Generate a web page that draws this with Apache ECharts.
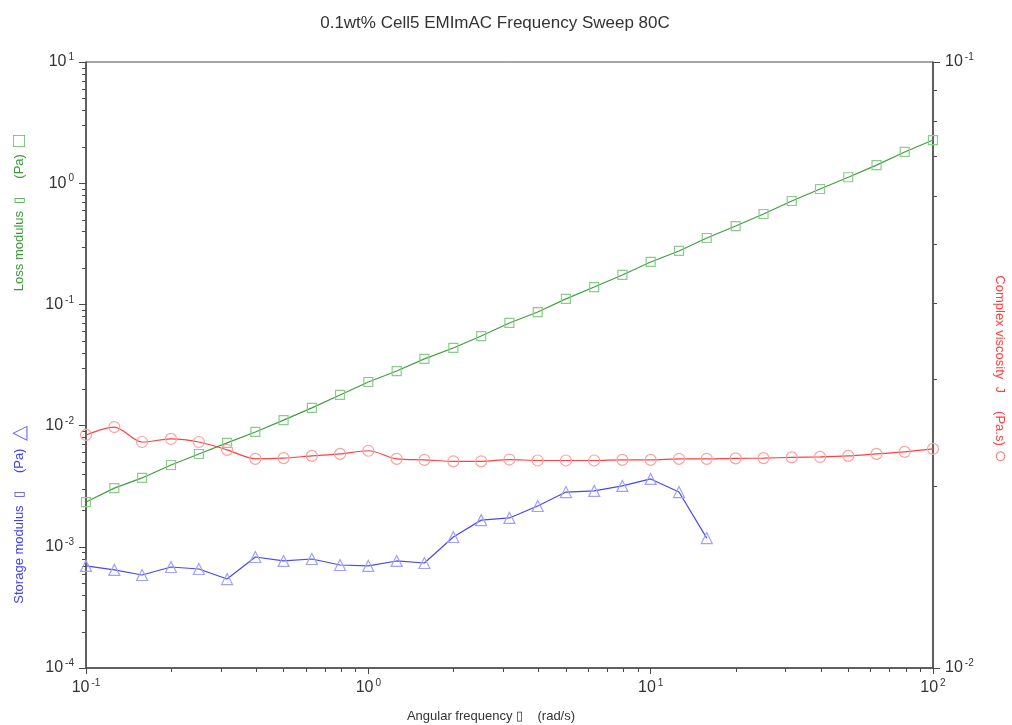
<!DOCTYPE html>
<html>
<head>
<meta charset="utf-8">
<script src="https://cdn.jsdelivr.net/npm/echarts@6/dist/echarts.min.js"></script>
<style>
  html, body { margin: 0; padding: 0; background: #ffffff; }
  #chart { width: 1012px; height: 725px; }
</style>
</head>
<body>
<div id="chart"></div>
<script>
// Angular frequency (rad/s), 10 points per decade
const frequency = [0.1, 0.126, 0.158, 0.2, 0.251, 0.316, 0.398, 0.501, 0.631, 0.794,
  1, 1.26, 1.58, 2, 2.51, 3.16, 3.98, 5.01, 6.31, 7.94,
  10, 12.6, 15.8, 20, 25.1, 31.6, 39.8, 50.1, 63.1, 79.4, 100];

// Loss modulus G'' (Pa)
const lossModulus = [0.00234, 0.00305, 0.0037, 0.00473, 0.00583, 0.0072, 0.00886, 0.0111, 0.0140, 0.0179,
  0.0229, 0.0282, 0.0355, 0.0437, 0.0548, 0.0703, 0.0865, 0.111, 0.139, 0.175,
  0.224, 0.276, 0.353, 0.443, 0.557, 0.713, 0.896, 1.12, 1.41, 1.81, 2.27];

// Storage modulus G' (Pa), measured up to 15.8 rad/s
const storageModulus = [0.000695, 0.000644, 0.000585, 0.000681, 0.000656, 0.000542, 0.000824, 0.000764, 0.000793, 0.000708,
  0.000695, 0.000764, 0.000735, 0.001205, 0.00166, 0.00173, 0.00217, 0.00283, 0.00289, 0.00318,
  0.00363, 0.00283, 0.00118];

// Complex viscosity (Pa.s)
const complexViscosity = [0.02424, 0.02498, 0.0236, 0.02388, 0.0236, 0.02291, 0.02214, 0.0222, 0.02239, 0.02256,
  0.02283, 0.02214, 0.02205, 0.02193, 0.02193, 0.02208, 0.022, 0.022, 0.022, 0.02205,
  0.02205, 0.02214, 0.02214, 0.02218, 0.0222, 0.02226, 0.0223, 0.02239, 0.02256, 0.02273, 0.02299];

const titleText = '0.1wt% Cell5 EMImAC Frequency Sweep 80C';

const xRange = [0.1, 100];
const leftRange = [1e-4, 10];
const rightRange = [0.01, 0.1];

const axisColor = '#4a4a4a';
const textColor = '#333333';
const fontFamily = 'Liberation Sans, Arial, sans-serif';

function pair(a, b) { return a.map((v, i) => [v, b[i]]); }

function powerLabel(value) {
  const e = Math.round(Math.log10(value));
  return '{b|10}{s|' + e + '}';
}

const powerRich = {
  b: { fontSize: 16, color: textColor, fontFamily: fontFamily },
  s: { fontSize: 10, color: textColor, fontFamily: fontFamily, padding: [0, 0, 9, 2] }
};

const chart = echarts.init(document.getElementById('chart'), null, { renderer: 'canvas' });

const option = {
  animation: false,
  backgroundColor: '#ffffff',
  title: {
    text: titleText,
    left: 490,
    textAlign: 'center',
    top: 10,
    textStyle: { fontSize: 17, fontWeight: 'normal', color: textColor, fontFamily: fontFamily }
  },
  grid: {
    left: 86, right: 79, top: 62, bottom: 57,
    show: true, borderColor: axisColor, borderWidth: 1, backgroundColor: 'transparent'
  },
  xAxis: {
    type: 'log', logBase: 10, min: xRange[0], max: xRange[1],
    axisLine: { show: true, lineStyle: { color: axisColor, width: 1.5 } },
    axisTick: { show: true, inside: false, length: 6, lineStyle: { color: axisColor, width: 1 } },
    axisLabel: { margin: 10, formatter: powerLabel, rich: powerRich },
    splitLine: { show: false },
    minorTick: { show: false }
  },
  yAxis: [
    {
      type: 'log', logBase: 10, min: leftRange[0], max: leftRange[1], position: 'left',
      axisLine: { show: true, lineStyle: { color: axisColor, width: 1.5 } },
      axisTick: { show: true, inside: false, length: 7, lineStyle: { color: axisColor, width: 1 } },
      axisLabel: { margin: 12, formatter: powerLabel, rich: powerRich },
      splitLine: { show: false }
    },
    {
      type: 'log', logBase: 10, min: rightRange[0], max: rightRange[1], position: 'right',
      axisLine: { show: true, lineStyle: { color: axisColor, width: 1.5 } },
      axisTick: { show: true, inside: false, length: 7, lineStyle: { color: axisColor, width: 1 } },
      axisLabel: { margin: 12, formatter: powerLabel, rich: powerRich },
      splitLine: { show: false }
    }
  ],
  series: [
    {
      name: 'Loss modulus',
      type: 'line', yAxisIndex: 0,
      data: pair(frequency, lossModulus),
      symbol: 'rect', symbolSize: 9,
      lineStyle: { color: '#3f9f3f', width: 1.2 },
      itemStyle: { color: 'rgba(0,0,0,0)', borderColor: '#8acc8a', borderWidth: 1.2 },
      z: 3
    },
    {
      name: 'Storage modulus',
      type: 'line', yAxisIndex: 0,
      data: pair(frequency, storageModulus),
      symbol: 'triangle', symbolSize: 11,
      lineStyle: { color: '#4848f0', width: 1.2 },
      itemStyle: { color: 'rgba(0,0,0,0)', borderColor: '#a0a0ff', borderWidth: 1.2 },
      z: 3
    },
    {
      name: 'Complex viscosity',
      type: 'line', yAxisIndex: 1,
      data: pair(frequency, complexViscosity),
      symbol: 'circle', symbolSize: 11, smooth: 0.3,
      lineStyle: { color: '#ff4040', width: 1.2 },
      itemStyle: { color: 'rgba(0,0,0,0)', borderColor: '#ffa0a0', borderWidth: 1.2 },
      z: 4
    }
  ]
};

chart.setOption(option);

// Axis titles and logarithmic minor ticks (positions come from the chart's own scales)
function buildOverlay() {
  const elements = [];
  const x0 = chart.convertToPixel({ xAxisIndex: 0 }, xRange[0]);
  const x1 = chart.convertToPixel({ xAxisIndex: 0 }, xRange[1]);
  const yBottom = chart.convertToPixel({ yAxisIndex: 0 }, leftRange[0]);
  const minorLen = 4;
  const tickStyle = { stroke: axisColor, lineWidth: 1 };

  function minorValues(lo, hi) {
    const out = [];
    for (let d = Math.round(Math.log10(lo)); d < Math.round(Math.log10(hi)); d++) {
      for (let k = 2; k <= 9; k++) out.push(k * Math.pow(10, d));
    }
    return out;
  }

  minorValues(xRange[0], xRange[1]).forEach(v => {
    const px = Math.round(chart.convertToPixel({ xAxisIndex: 0 }, v)) + 0.5;
    elements.push({ type: 'line', silent: true, shape: { x1: px, y1: yBottom, x2: px, y2: yBottom + minorLen }, style: tickStyle });
  });
  minorValues(leftRange[0], leftRange[1]).forEach(v => {
    const py = Math.round(chart.convertToPixel({ yAxisIndex: 0 }, v)) + 0.5;
    elements.push({ type: 'line', silent: true, shape: { x1: x0 - minorLen, y1: py, x2: x0, y2: py }, style: tickStyle });
  });
  minorValues(rightRange[0], rightRange[1]).forEach(v => {
    const py = Math.round(chart.convertToPixel({ yAxisIndex: 1 }, v)) + 0.5;
    elements.push({ type: 'line', silent: true, shape: { x1: x1, y1: py, x2: x1 + minorLen, y2: py }, style: tickStyle });
  });

  const nameFont = { fontSize: 13, fontFamily: fontFamily };
  elements.push({
    type: 'text', silent: true, x: 19, y: 213, rotation: Math.PI / 2,
    style: {
      text: '{t|Loss modulus  \u25AF     (Pa)  }{m|\u25A1}',
      align: 'center', verticalAlign: 'middle',
      rich: { t: Object.assign({ fill: '#3a9a3a' }, nameFont), m: { fill: '#5fb85f', fontSize: 20, fontFamily: fontFamily } }
    }
  });
  elements.push({
    type: 'text', silent: true, x: 19, y: 515, rotation: Math.PI / 2,
    style: {
      text: '{t|Storage modulus  \u25AF     (Pa)  }{m|\u25B3}',
      align: 'center', verticalAlign: 'middle',
      rich: { t: Object.assign({ fill: '#4040ee' }, nameFont), m: { fill: '#6f6ff5', fontSize: 20, fontFamily: fontFamily } }
    }
  });
  elements.push({
    type: 'text', silent: true, x: 1000, y: 369, rotation: -Math.PI / 2,
    style: {
      text: '{t|Complex viscosity  J     (Pa.s) }{m|\u25CB}',
      align: 'center', verticalAlign: 'middle',
      rich: { t: Object.assign({ fill: '#ff4040' }, nameFont), m: { fill: '#ff7070', fontSize: 22, fontFamily: fontFamily } }
    }
  });
  elements.push({
    type: 'text', silent: true, x: 491, y: 716,
    style: {
      text: 'Angular frequency \u25AF    (rad/s)',
      align: 'center', verticalAlign: 'middle',
      fill: textColor, fontSize: 13, fontFamily: fontFamily
    }
  });
  chart.setOption({ graphic: { elements: elements } });
}

buildOverlay();
</script>
</body>
</html>
